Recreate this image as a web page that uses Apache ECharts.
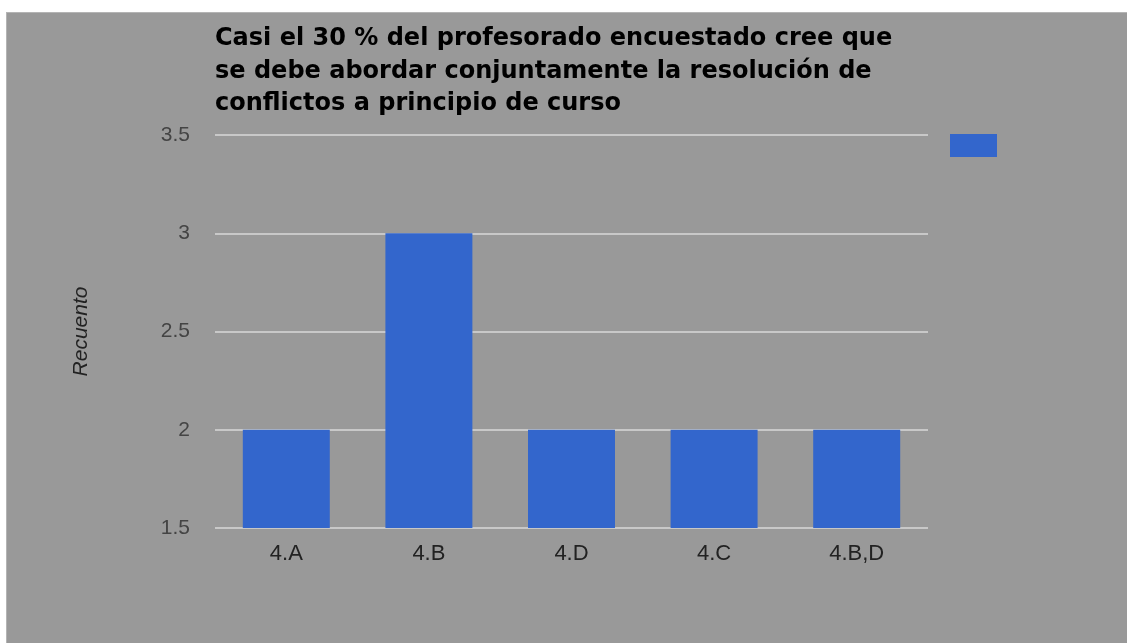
<!DOCTYPE html>
<html>
<head>
<meta charset="utf-8">
<script src="https://cdn.jsdelivr.net/npm/echarts@6/dist/echarts.min.js"></script>
<style>
html,body{margin:0;padding:0;background:#fff;width:1127px;height:643px;overflow:hidden;}
#c{position:absolute;left:6px;top:12px;width:1121px;height:631px;background:#999999;border-top:1px solid #b4b4b4;border-left:1px solid #b4b4b4;box-sizing:border-box;}
</style>
</head>
<body>
<div id="c"></div>
<script>
const titleText = 'Casi el 30 % del profesorado encuestado cree que\nse debe abordar conjuntamente la resolución de\nconflictos a principio de curso';
const categories = ['4.A', '4.B', '4.D', '4.C', '4.B,D'];
const values = [2, 3, 2, 2, 2];
const yAxisName = 'Recuento';
const seriesName = 'Recuento';

const chart = echarts.init(document.getElementById('c'), null, {renderer: 'canvas'});
chart.setOption({
  backgroundColor: 'transparent',
  animation: false,
  textStyle: {fontFamily: 'Liberation Sans, Arial, sans-serif'},
  title: {
    text: titleText,
    left: 208,
    top: 10,
    padding: 0,
    textStyle: {fontSize: 24, fontWeight: 'bold', color: '#000', lineHeight: 32.5, fontFamily: 'DejaVu Sans, sans-serif'}
  },
  legend: {
    left: 943,
    top: 121,
    padding: 0,
    icon: 'rect',
    itemWidth: 47,
    itemHeight: 23,
    formatter: () => '',
    data: [seriesName]
  },
  grid: {left: 208, right: 199, top: 122, bottom: 115, containLabel: false},
  xAxis: {
    type: 'category',
    data: categories,
    axisLine: {show: false},
    axisTick: {show: false},
    axisLabel: {color: '#222', fontSize: 22, margin: 15, fontFamily: 'Liberation Sans, Arial, sans-serif'}
  },
  yAxis: {
    type: 'value',
    min: 1.5,
    max: 3.5,
    interval: 0.5,
    name: yAxisName,
    nameLocation: 'middle',
    nameRotate: 90,
    nameGap: 123,
    nameTextStyle: {fontStyle: 'italic', fontSize: 21, color: '#222', fontFamily: 'Liberation Sans, Arial, sans-serif'},
    axisLine: {show: false},
    axisTick: {show: false},
    axisLabel: {color: '#444', fontSize: 21, margin: 25, fontFamily: 'Liberation Sans, Arial, sans-serif'},
    splitLine: {lineStyle: {color: '#c8c8c8', width: 2}}
  },
  series: [{
    name: seriesName,
    type: 'bar',
    data: values,
    barWidth: '61%',
    itemStyle: {color: '#3366cc'}
  }]
});
</script>
</body>
</html>
